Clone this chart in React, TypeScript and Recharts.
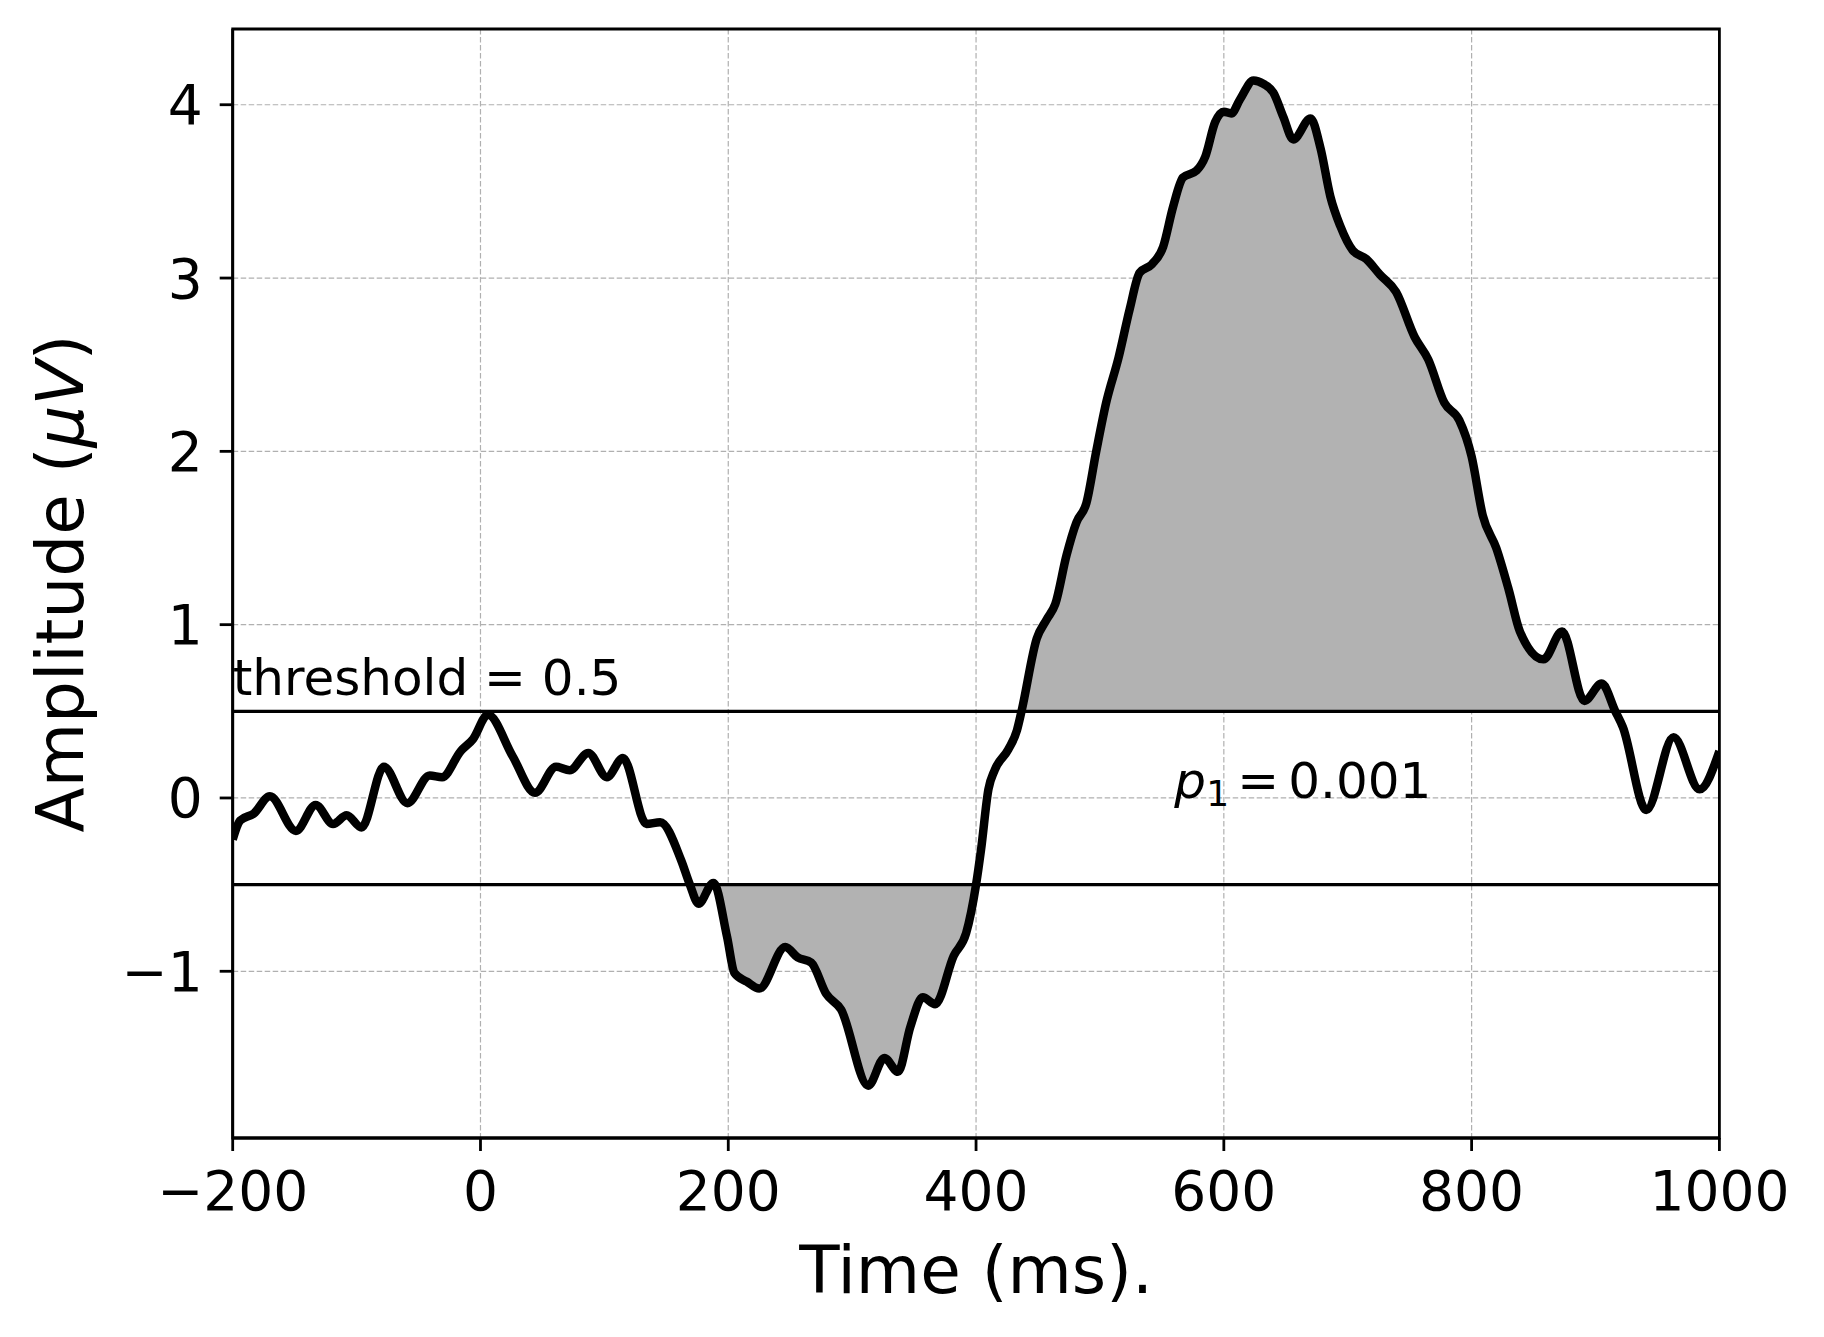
import React from "react";
import {
  ComposedChart,
  Line,
  Area,
  XAxis,
  YAxis,
  CartesianGrid,
  ReferenceLine,
  ReferenceArea,
  Label,
} from "recharts";

// ERP trace (ms, µV)
const times = [
  -200, -194, -183, -170, -149, -133, -119, -108, -96, -78, -59, -41, -31, -16, -6, 6, 26, 44, 61, 72,
  87, 102, 115, 134, 145, 162, 169, 176, 188, 199, 205, 215, 225, 246, 256, 267, 279, 291, 313, 326,
  337, 347, 357, 367, 382, 392, 396, 400, 404, 410, 415, 426, 433, 437, 449, 457, 464, 473, 481, 489,
  497, 505, 515, 524, 532, 542, 551, 559, 567, 578, 585, 593, 600, 606, 613, 624, 632, 640, 648, 656,
  670, 678, 686, 694, 704, 715, 726, 739, 754, 765, 778, 790, 800, 809, 820, 830, 839, 858, 873, 891,
  905, 916, 922, 941, 963, 984, 1000,
];
const amplitudes = [
  -0.24, -0.13, -0.09, 0.01, -0.19, -0.04, -0.15, -0.1, -0.17, 0.18, -0.03, 0.13, 0.12, 0.27, 0.34, 0.48, 0.24, 0.03, 0.18, 0.16,
  0.26, 0.12, 0.23, -0.15, -0.14, -0.36, -0.5, -0.61, -0.49, -0.8, -1.01, -1.06, -1.1, -0.86, -0.92, -0.95, -1.13, -1.22, -1.66, -1.5,
  -1.58, -1.32, -1.15, -1.19, -0.91, -0.78, -0.66, -0.5, -0.3, 0.05, 0.16, 0.28, 0.39, 0.51, 0.92, 1.03, 1.12, 1.4, 1.59, 1.7,
  2.0, 2.28, 2.54, 2.82, 3.03, 3.08, 3.18, 3.41, 3.58, 3.62, 3.7, 3.9, 3.96, 3.95, 4.03, 4.14, 4.12, 4.07, 3.93, 3.8,
  3.92, 3.75, 3.47, 3.3, 3.16, 3.11, 3.02, 2.92, 2.66, 2.53, 2.28, 2.18, 1.97, 1.63, 1.44, 1.2, 0.96, 0.8, 0.96, 0.56,
  0.66, 0.5, 0.41, -0.07, 0.35, 0.05, 0.27,
];

const threshold = 0.5;
const xTicks = [-200, 0, 200, 400, 600, 800, 1000];
const yTicks = [-1, 0, 1, 2, 3, 4];
const xDomain = [-200, 1000];
const yDomain = [-1.962, 4.437];

const pLabelTime = 560;

const data = times.map((t, i) => ({
  t,
  v: amplitudes[i],
  pos: [threshold, Math.max(amplitudes[i], threshold)],
  neg: [Math.min(amplitudes[i], -threshold), -threshold],
}));

const FONT = "DejaVu Sans";
const minus = (v: number) => (v < 0 ? `\u2212${-v}` : `${v}`);

export default function App() {
  return (
    <div style={{ position: "absolute", left: 0, top: 0, width: 1824, height: 1337, background: "#fff" }}>
      <ComposedChart
        width={1824}
        height={1337}
        data={data}
        margin={{ top: 29, right: 104.6, left: 82.7, bottom: 79 }}
      >
        <CartesianGrid stroke="#b0b0b0" strokeWidth={1.2} strokeDasharray="5.5 2.5" />
        <XAxis
          dataKey="t"
          type="number"
          domain={xDomain}
          ticks={xTicks}
          allowDataOverflow
          height={120}
          tickSize={13}
          tickMargin={20}
          tickFormatter={minus}
          tick={{ fontSize: 55, fill: "#000", fontFamily: FONT }}
          tickLine={{ stroke: "#000", strokeWidth: 2.8 }}
          axisLine={{ stroke: "#000", strokeWidth: 2.8 }}
        >
          <Label
            content={({ viewBox }: any) => (
              <text
                x={viewBox.x + viewBox.width / 2}
                y={viewBox.y + 155}
                textAnchor="middle"
                fontSize={66}
                fontFamily={FONT}
                fill="#000"
              >
                Time (ms).
              </text>
            )}
          />
        </XAxis>
        <YAxis
          type="number"
          domain={yDomain}
          ticks={yTicks}
          allowDataOverflow
          width={150}
          tickSize={13}
          tickMargin={17}
          tickFormatter={minus}
          tick={{ fontSize: 55, fill: "#000", fontFamily: FONT }}
          tickLine={{ stroke: "#000", strokeWidth: 2.8 }}
          axisLine={{ stroke: "#000", strokeWidth: 2.8 }}
        >
          <Label
            content={({ viewBox }: any) => {
              const cx = viewBox.x + 0.3;
              const cy = viewBox.y + viewBox.height / 2;
              return (
                <text
                  x={cx}
                  y={cy}
                  transform={`rotate(-90 ${cx} ${cy})`}
                  textAnchor="middle"
                  fontSize={66}
                  fontFamily={FONT}
                  fill="#000"
                >
                  Amplitude (<tspan fontStyle="italic">μV</tspan>)
                </text>
              );
            }}
          />
        </YAxis>
        <Area
          dataKey="pos"
          type="monotone"
          fill="#b2b2b2"
          fillOpacity={1}
          stroke="none"
          isAnimationActive={false}
        />
        <Area
          dataKey="neg"
          type="monotone"
          fill="#b2b2b2"
          fillOpacity={1}
          stroke="none"
          isAnimationActive={false}
        />
        <ReferenceLine
          y={threshold}
          stroke="#000"
          strokeWidth={3.2}
          label={{
            content: ({ viewBox }: any) => (
              <text x={viewBox.x} y={viewBox.y - 16} fontSize={50} fontFamily={FONT} fill="#000">
                threshold = 0.5
              </text>
            ),
          }}
        />
        <ReferenceLine y={-threshold} stroke="#000" strokeWidth={3.2} />
        <ReferenceLine
          y={0}
          stroke="none"
          label={{
            content: ({ viewBox }: any) => {
              const ax = viewBox.x + ((pLabelTime - xDomain[0]) / (xDomain[1] - xDomain[0])) * viewBox.width;
              const ay = viewBox.y;
              return (
                <text x={ax} y={ay} fontSize={50} fontFamily={FONT} fill="#000">
                  <tspan fontStyle="italic">p</tspan>
                  <tspan x={ax + 32} dy={8} fontSize={36}>1</tspan>
                  <tspan x={ax + 63} dy={-8}>=</tspan>
                  <tspan x={ax + 114}>0.001</tspan>
                </text>
              );
            },
          }}
        />
        <Line
          dataKey="v"
          type="monotone"
          stroke="#000"
          strokeWidth={8.5}
          dot={false}
          activeDot={false}
          isAnimationActive={false}
        />
        <ReferenceArea
          x1={xDomain[0]}
          x2={xDomain[1]}
          y1={yDomain[0]}
          y2={yDomain[1]}
          fill="none"
          fillOpacity={0}
          stroke="#000"
          strokeWidth={2.8}
        />
      </ComposedChart>
    </div>
  );
}
